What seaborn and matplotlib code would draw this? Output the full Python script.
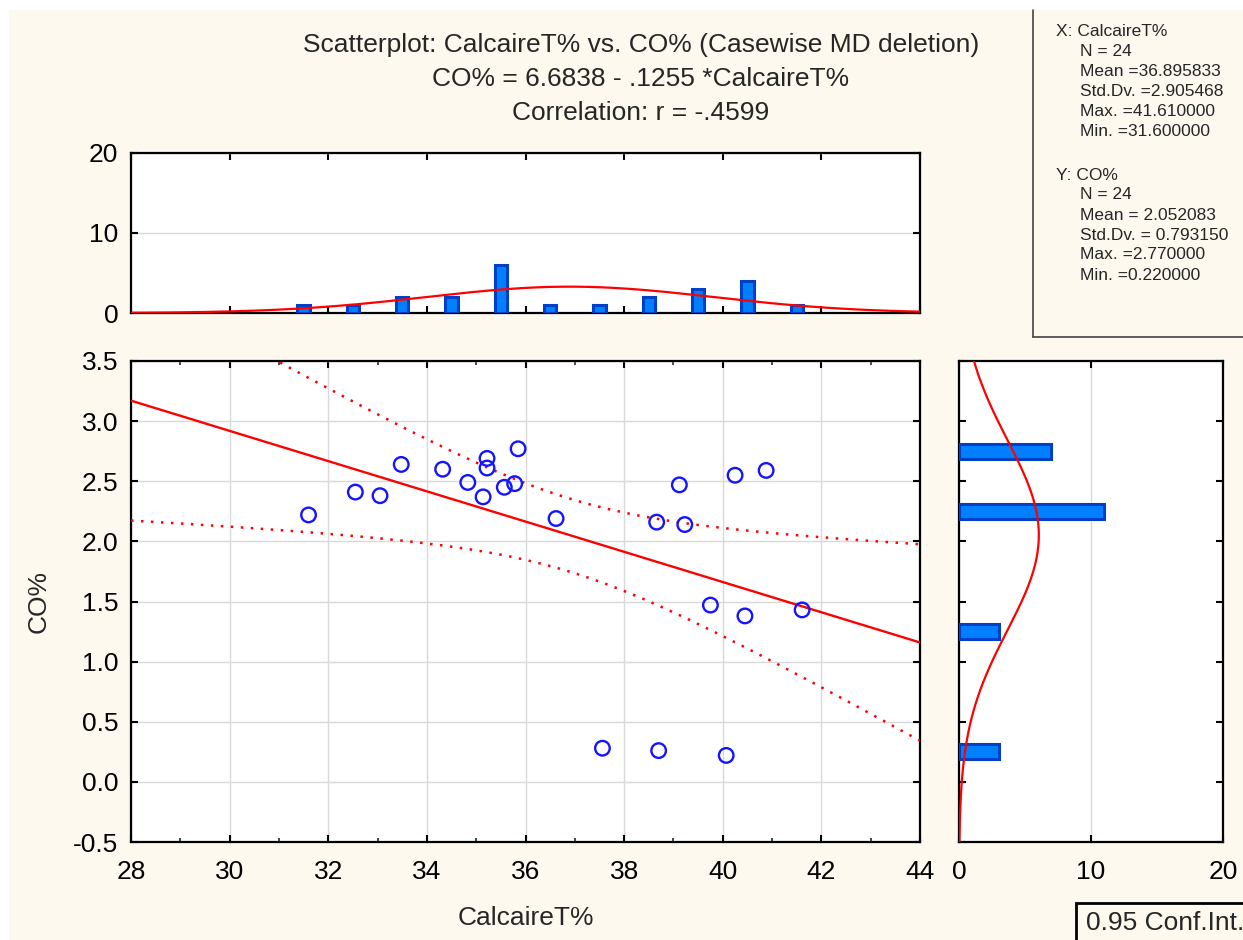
import numpy as np
import pandas as pd
import matplotlib
matplotlib.use("Agg")
import matplotlib.pyplot as plt
import seaborn as sns
from matplotlib.patches import Rectangle
from matplotlib.lines import Line2D

# ---------------- data ----------------
calcaire = [31.60, 32.55, 33.05, 33.48, 34.32, 34.83, 35.22, 35.22, 35.14, 35.57, 35.78, 35.85, 36.62,
            39.12, 40.25, 40.88, 38.66, 39.23, 39.75, 40.45, 41.61,
            37.56, 38.70, 40.07]
co = [2.22, 2.41, 2.38, 2.64, 2.60, 2.49, 2.69, 2.61, 2.37, 2.45, 2.48, 2.77, 2.19,
      2.47, 2.55, 2.59, 2.16, 2.14, 1.47, 1.38, 1.43,
      0.28, 0.26, 0.22]

title_lines = ["Scatterplot: CalcaireT% vs. CO% (Casewise MD deletion)",
               "CO% = 6.6838 - .1255 *CalcaireT%",
               "Correlation: r = -.4599"]
x_stats = ["X: CalcaireT%", "N = 24", "Mean =36.895833", "Std.Dv. =2.905468",
           "Max. =41.610000", "Min. =31.600000"]
y_stats = ["Y: CO%", "N = 24", "Mean = 2.052083", "Std.Dv. = 0.793150",
           "Max. =2.770000", "Min. =0.220000"]
x_ticks = [28, 30, 32, 34, 36, 38, 40, 42, 44]
y_ticks = [-0.5, 0.0, 0.5, 1.0, 1.5, 2.0, 2.5, 3.0, 3.5]
y_ticklabels = ["-0.5", "0.0", "0.5", "1.0", "1.5", "2.0", "2.5", "3.0", "3.5"]
hist_ticks = [0, 10, 20]

df = pd.DataFrame({"CalcaireT%": calcaire, "CO%": co})

# ---------------- style ----------------
sns.set_style("white")
plt.rcParams["font.family"] = ["Liberation Sans", "DejaVu Sans"]
CREAM = "#FDF9EF"
BAR_FC = "#0080FF"
BAR_EC = "#0040C8"
PT = "#1414FF"
RED = "#FF0000"
GRID = "#D9D9D9"
FS = 19

W, H = 1243, 940
fig = plt.figure(figsize=(W / 100, H / 100), dpi=100, facecolor="white")
fig.add_artist(Rectangle((9 / W, 0), 1, 1 - 10 / H, transform=fig.transFigure,
                         facecolor=CREAM, edgecolor="none", zorder=-10))


def fx(px):
    return px / W


def fy(py):
    return 1 - py / H


ax_top = fig.add_axes([fx(131), fy(313), (920 - 131) / W, (313 - 153) / H])
ax = fig.add_axes([fx(131), fy(842), (920 - 131) / W, (842 - 361) / H])
ax_r = fig.add_axes([fx(959), fy(842), (1223 - 959) / W, (842 - 361) / H])


def style(a):
    a.set_facecolor("white")
    for s in a.spines.values():
        s.set_visible(True)
        s.set_color("black")
        s.set_linewidth(1.6)
    a.tick_params(which="major", direction="in", length=5, width=1.5,
                  top=True, right=True, bottom=True, left=True,
                  labelsize=FS, colors="black", pad=9)
    a.tick_params(which="minor", direction="in", length=3, width=1.2,
                  top=True, bottom=True)
    a.set_axisbelow(True)


def drop_empty(a):
    for p in list(a.patches):
        if p.get_height() == 0 or p.get_width() == 0:
            p.remove()


for a in (ax_top, ax, ax_r):
    style(a)

n = len(calcaire)
xa = np.array(calcaire)
ya = np.array(co)

# ---------------- main scatter ----------------
sns.scatterplot(data=df, x="CalcaireT%", y="CO%", ax=ax, s=110, marker="o",
                facecolors="none", edgecolor=PT, linewidth=1.7, zorder=4)

slope, intercept = np.polyfit(xa, ya, 1)
xg = np.linspace(28, 44, 200)
yhat = intercept + slope * xg
resid = ya - (intercept + slope * xa)
s_res = np.sqrt(np.sum(resid ** 2) / (n - 2))
sxx = np.sum((xa - xa.mean()) ** 2)
tval = 2.0739
half = tval * s_res * np.sqrt(1 / n + (xg - xa.mean()) ** 2 / sxx)
ax.plot(xg, yhat, color=RED, lw=1.7, zorder=3)
ax.plot(xg, yhat + half, color=RED, lw=1.8, ls=(0, (1, 3)), zorder=3)
ax.plot(xg, yhat - half, color=RED, lw=1.8, ls=(0, (1, 3)), zorder=3)

ax.set_xlim(28, 44)
ax.set_ylim(-0.5, 3.5)
ax.set_xticks(x_ticks)
ax.set_xticks(np.arange(29, 44, 2), minor=True)
ax.set_yticks(y_ticks)
ax.set_yticklabels(y_ticklabels)
ax.grid(True, which="major", color=GRID, lw=1.0)
ax.tick_params(axis="x", pad=13)
ax.set_xlabel("CalcaireT%", fontsize=FS, labelpad=16)
ax.set_ylabel("CO%", fontsize=FS, labelpad=16)

# ---------------- top histogram ----------------
sns.histplot(x=calcaire, ax=ax_top, binwidth=1, binrange=(31, 42), shrink=0.25,
             color=BAR_FC, edgecolor=BAR_EC, linewidth=2.2, alpha=1, zorder=3)
drop_empty(ax_top)
mx, sx = xa.mean(), xa.std(ddof=1)
ax_top.plot(xg, n * 1.0 * np.exp(-0.5 * ((xg - mx) / sx) ** 2) / (sx * np.sqrt(2 * np.pi)),
            color=RED, lw=1.6, zorder=4)
ax_top.set_xlim(28, 44)
ax_top.set_ylim(0, 20)
ax_top.set_yticks(hist_ticks)
ax_top.set_xticks(x_ticks)
ax_top.set_xticklabels([])
ax_top.set_xlabel("")
ax_top.set_ylabel("")
ax_top.grid(True, axis="y", color=GRID, lw=1.0)

# ---------------- right histogram ----------------
sns.histplot(y=co, ax=ax_r, binwidth=0.5, binrange=(0, 3), shrink=0.25,
             color=BAR_FC, edgecolor=BAR_EC, linewidth=2.2, alpha=1, zorder=3)
drop_empty(ax_r)
yg = np.linspace(-0.5, 3.5, 200)
my, sy = ya.mean(), ya.std(ddof=1)
ax_r.plot(n * 0.5 * np.exp(-0.5 * ((yg - my) / sy) ** 2) / (sy * np.sqrt(2 * np.pi)), yg,
          color=RED, lw=1.6, zorder=4)
ax_r.set_xlim(0, 20)
ax_r.set_ylim(-0.5, 3.5)
ax_r.set_xticks(hist_ticks)
ax_r.set_yticks(y_ticks)
ax_r.set_yticklabels([])
ax_r.set_xlabel("")
ax_r.set_ylabel("")
ax_r.tick_params(axis="x", pad=13)
ax_r.grid(True, axis="x", color=GRID, lw=1.0)

# ---------------- titles ----------------
for i, line in enumerate(title_lines):
    fig.text(fx(641), fy(45 + 34 * i), line, ha="center", va="center", fontsize=FS)

# ---------------- stats box ----------------
fig.add_artist(Line2D([fx(1033), fx(1033)], [fy(337), fy(10)], transform=fig.transFigure,
                      color="#444444", lw=1.2))
fig.add_artist(Line2D([fx(1033), 1], [fy(337), fy(337)], transform=fig.transFigure,
                      color="#444444", lw=1.2))
for i, line in enumerate(x_stats):
    fig.text(fx(1056 if i == 0 else 1080), fy(31 + 20 * i), line, ha="left", va="center",
             fontsize=12.5)
for i, line in enumerate(y_stats):
    fig.text(fx(1056 if i == 0 else 1080), fy(175 + 20 * i), line, ha="left", va="center",
             fontsize=12.5)

# ---------------- conf int box ----------------
fig.add_artist(Rectangle((fx(1076), fy(945)), fx(200), 42 / H, transform=fig.transFigure,
                         facecolor=CREAM, edgecolor="black", lw=2))
fig.text(fx(1086), fy(923), "0.95 Conf.Int.", ha="left", va="center", fontsize=FS)

fig.savefig("out.png", dpi=100, facecolor=fig.get_facecolor())
